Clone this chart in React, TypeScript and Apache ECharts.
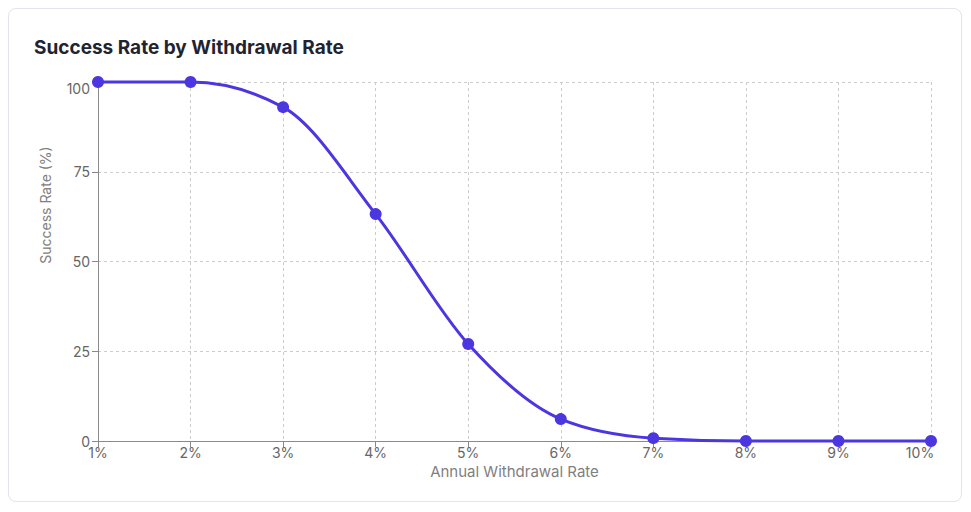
import React, { useEffect, useRef } from "react";
import * as echarts from "echarts";

const categories = ["1%", "2%", "3%", "4%", "5%", "6%", "7%", "8%", "9%", "10%"];
const successRates = [100, 100, 93, 63.2, 27, 6.1, 0.8, 0, 0, 0];
const yTicks = { min: 0, max: 100, interval: 25 };
const titleText = "Success Rate by Withdrawal Rate";
const xName = "Annual Withdrawal Rate";
const yName = "Success Rate (%)";

const LINE = "#4b36df";
const FONT = "Inter, 'Noto Sans', sans-serif";

// monotone-x cubic tangents (Fritsch–Carlson, as in d3.curveMonotoneX), in pixel space
function tangents(pts: number[][]): number[] {
  const n = pts.length;
  const sign = (v: number) => (v < 0 ? -1 : 1);
  const t: number[] = new Array(n).fill(0);
  for (let i = 1; i < n - 1; i++) {
    const [x0, y0] = pts[i - 1];
    const [x1, y1] = pts[i];
    const [x2, y2] = pts[i + 1];
    const h0 = x1 - x0;
    const h1 = x2 - x1;
    const s0 = (y1 - y0) / h0;
    const s1 = (y2 - y1) / h1;
    const p = (s0 * h1 + s1 * h0) / (h0 + h1);
    t[i] = (sign(s0) + sign(s1)) * Math.min(Math.abs(s0), Math.abs(s1), 0.5 * Math.abs(p)) || 0;
  }
  if (n > 1) {
    const h = pts[1][0] - pts[0][0];
    t[0] = h ? (3 * (pts[1][1] - pts[0][1]) / h - t[1]) / 2 : t[1];
    const hl = pts[n - 1][0] - pts[n - 2][0];
    t[n - 1] = hl ? (3 * (pts[n - 1][1] - pts[n - 2][1]) / hl - t[n - 2]) / 2 : t[n - 2];
  }
  return t;
}

export default function App() {
  const ref = useRef<HTMLDivElement>(null);
  useEffect(() => {
    if (!ref.current) return;
    const chart = echarts.init(ref.current, undefined, { renderer: "svg" });
    chart.setOption({
      animation: false,
      textStyle: { fontFamily: FONT },
      title: {
        text: titleText,
        left: 20,
        top: 24,
        textStyle: { fontSize: 19, fontWeight: 700, color: "#1f2430", fontFamily: FONT },
      },
      grid: { left: 89, right: 30, top: 73, bottom: 60, containLabel: false },
      graphic: [
        {
          type: "text",
          x: 36,
          y: 196,
          rotation: Math.PI / 2,
          style: {
            text: yName,
            align: "center",
            verticalAlign: "middle",
            fontSize: 14,
            fontFamily: FONT,
            fill: "#808080",
          },
        },
      ],
      xAxis: {
        type: "category",
        data: categories,
        boundaryGap: false,
        name: xName,
        nameLocation: "middle",
        nameGap: 17,
        nameTextStyle: { fontSize: 15, color: "#808080", fontFamily: FONT },
        axisLine: { lineStyle: { color: "#8a8a8a", width: 1 } },
        axisTick: { show: true, length: 6, alignWithLabel: true, lineStyle: { color: "#8a8a8a" } },
        axisLabel: {
          fontSize: 14,
          color: "#666",
          margin: 4,
          fontFamily: FONT,
          formatter: (v: string) => (v === "10%" ? "{last|" + v + "}" : v),
          rich: { last: { fontSize: 14, color: "#666", padding: [0, 22, 0, 0], fontFamily: FONT } },
        },
        splitLine: { show: true, lineStyle: { color: "#cccccc", type: [3, 3] } },
      },
      yAxis: {
        type: "value",
        min: yTicks.min,
        max: yTicks.max,
        interval: yTicks.interval,
        axisLine: { show: true, lineStyle: { color: "#8a8a8a", width: 1 } },
        axisTick: { show: true, length: 6, lineStyle: { color: "#8a8a8a" } },
        axisLabel: {
          fontSize: 14,
          color: "#666",
          margin: 8,
          fontFamily: FONT,
          formatter: (v: number) => (v === 100 ? "{top|" + v + "}" : String(v)),
          rich: { top: { fontSize: 14, color: "#666", padding: [13, 0, 0, 0], fontFamily: FONT } },
        },
        splitLine: { show: true, lineStyle: { color: "#cccccc", type: [3, 3] } },
      },
      series: [
        {
          type: "custom",
          data: successRates.map((v, i) => [i, v]),
          z: 2,
          silent: true,
          renderItem: (params: any, api: any) => {
            const i = params.dataIndex;
            if (i >= successRates.length - 1) return null;
            const pts = successRates.map((v, k) => api.coord([k, v]));
            const t = tangents(pts);
            const [x0, y0] = pts[i];
            const [x1, y1] = pts[i + 1];
            const dx = (x1 - x0) / 3;
            return {
              type: "bezierCurve",
              shape: {
                x1: x0,
                y1: y0,
                cpx1: x0 + dx,
                cpy1: y0 + dx * t[i],
                cpx2: x1 - dx,
                cpy2: y1 - dx * t[i + 1],
                x2: x1,
                y2: y1,
              },
              style: { stroke: LINE, lineWidth: 3, fill: "none", lineCap: "round" },
            };
          },
        },
        {
          type: "line",
          data: successRates,
          z: 3,
          symbol: "circle",
          symbolSize: 12,
          showSymbol: true,
          lineStyle: { width: 0, opacity: 0 },
          itemStyle: { color: LINE },
        },
      ],
    });
    return () => chart.dispose();
  }, []);

  return (
    <div
      style={{
        width: 954,
        height: 494,
        border: "1px solid #e3e3ea",
        borderRadius: 8,
        boxSizing: "border-box",
        background: "#fff",
        overflow: "hidden",
      }}
    >
      <div ref={ref} style={{ width: 952, height: 492 }} />
    </div>
  );
}
